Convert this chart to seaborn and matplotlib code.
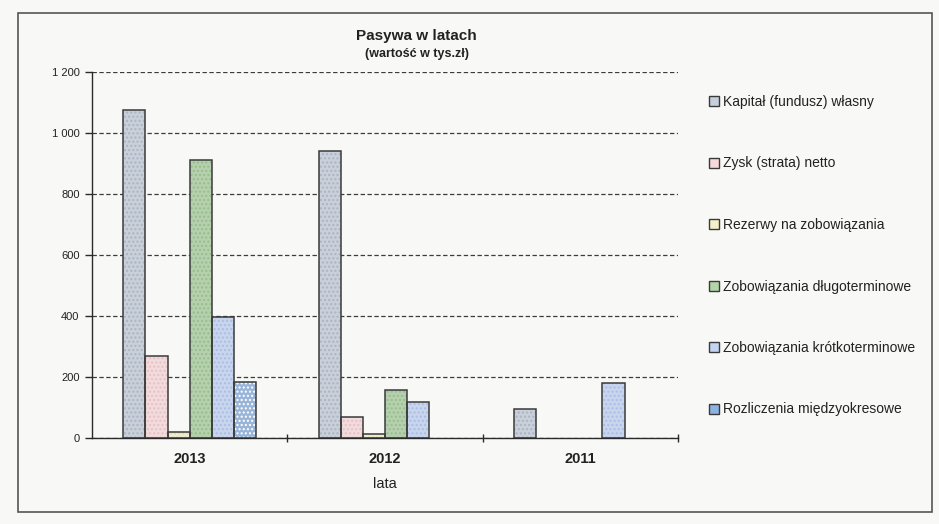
import matplotlib
matplotlib.use("Agg")
import matplotlib.pyplot as plt
from matplotlib.patches import Rectangle, Patch
from matplotlib.ticker import FuncFormatter, FixedLocator
import seaborn as sns
import pandas as pd

years = ["2013", "2012", "2011"]
series_names = [
    "Kapitał (fundusz) własny",
    "Zysk (strata) netto",
    "Rezerwy na zobowiązania",
    "Zobowiązania długoterminowe",
    "Zobowiązania krótkoterminowe",
    "Rozliczenia międzyokresowe",
]
kapital = [1075, 942, 95]
zysk = [268, 69, 0]
rezerwy = [20, 14, 0]
dlugoterminowe = [910, 157, 0]
krotkoterminowe = [398, 118, 180]
rozliczenia = [185, 0, 0]

colors = ["#c6cfdc", "#f6d7da", "#f4f1c8", "#b3d6a9", "#c3d3f2", "#8eb3e2"]
dot_colors = ["#aab4c4", "#e8c0c4", "#e0dcaa", "#94bf88", "#a9bde6", "#ffffff"]

values = [kapital, zysk, rezerwy, dlugoterminowe, krotkoterminowe, rozliczenia]
df = pd.DataFrame(
    [(y, name, vals[i]) for name, vals in zip(series_names, values) for i, y in enumerate(years)],
    columns=["rok", "pozycja", "wartosc"],
)

sns.set_theme(style="white")
plt.rcParams["font.family"] = ["Liberation Sans", "DejaVu Sans"]
plt.rcParams["hatch.linewidth"] = 1.0

bg = "#f8f9f7"
edge = "#3a3a3a"
fig = plt.figure(figsize=(9.39, 5.24), dpi=100, facecolor=bg)
ax = fig.add_axes([92 / 939, 1 - 438 / 524, (678 - 92) / 939, (438 - 72) / 524])
ax.set_facecolor(bg)

sns.barplot(
    data=df, x="rok", y="wartosc", hue="pozycja",
    order=years, hue_order=series_names, palette=colors,
    width=0.68, gap=0, edgecolor=edge, linewidth=0,
    legend=False, ax=ax, zorder=3,
)

# dotted texture and outline on the non-empty bars
for cont, dc in zip(ax.containers, dot_colors):
    for bar in cont:
        if bar.get_height() > 0:
            ax.add_patch(Rectangle(bar.get_xy(), bar.get_width(), bar.get_height(),
                                   fill=False, hatch="....", edgecolor=dc,
                                   linewidth=0, zorder=3.5))
            ax.add_patch(Rectangle(bar.get_xy(), bar.get_width(), bar.get_height(),
                                   fill=False, edgecolor=edge, linewidth=1.1, zorder=4))

ax.set_ylim(0, 1200)
ax.set_xlim(-0.5, 2.5)
ax.yaxis.set_major_locator(FixedLocator(range(0, 1201, 200)))
ax.yaxis.set_major_formatter(FuncFormatter(lambda v, p: f"{int(v):,}".replace(",", " ")))
ax.grid(axis="y", color="#3c3c3c", linestyle=(0, (3.5, 2)), linewidth=0.9, zorder=1)
ax.grid(axis="x", visible=False)

for s in ["top", "right"]:
    ax.spines[s].set_visible(False)
for s in ["left", "bottom"]:
    ax.spines[s].set_color("#2a2a2a")
    ax.spines[s].set_linewidth(1.0)
    ax.spines[s].set_zorder(5)

ax.tick_params(axis="y", which="major", direction="out", length=5, width=1.0,
               color="#2a2a2a", labelsize=8, labelcolor="#222222", pad=4, left=True)
ax.xaxis.set_minor_locator(FixedLocator([0.5, 1.5, 2.5]))
ax.tick_params(axis="x", which="major", length=0, pad=10, labelsize=10.5, labelcolor="#222222")
ax.tick_params(axis="x", which="minor", direction="inout", length=6, width=1.0,
               color="#2a2a2a", bottom=True)
for t in ax.get_xticklabels():
    t.set_fontweight("bold")

ax.set_ylabel("")
ax.set_xlabel("lata", fontsize=10.5, color="#222222", labelpad=8)

fig.text(416 / 939, 1 - 36 / 524, "Pasywa w latach", ha="center", va="center",
         fontsize=11, fontweight="bold", color="#222222")
fig.text(417 / 939, 1 - 54 / 524, "(wartość w tys.zł)", ha="center", va="center",
         fontsize=9, fontweight="bold", color="#222222")

handles = [Patch(facecolor=c, edgecolor=edge, linewidth=1.0) for c in colors]
fig.legend(handles, series_names, loc="upper left",
           bbox_to_anchor=(709 / 939, 1 - 95 / 524), frameon=False,
           fontsize=10, labelcolor="#222222", handlelength=0.7, handleheight=0.7,
           handletextpad=0.3, labelspacing=3.42, borderaxespad=0, borderpad=0)

# outer chart frame
fig.add_artist(Rectangle((18 / 939, 1 - 512 / 524), (932 - 18) / 939, (512 - 13) / 524,
                         transform=fig.transFigure, fill=False,
                         edgecolor="#555555", linewidth=1.2))

fig.savefig("out.png", dpi=100, facecolor=bg)
